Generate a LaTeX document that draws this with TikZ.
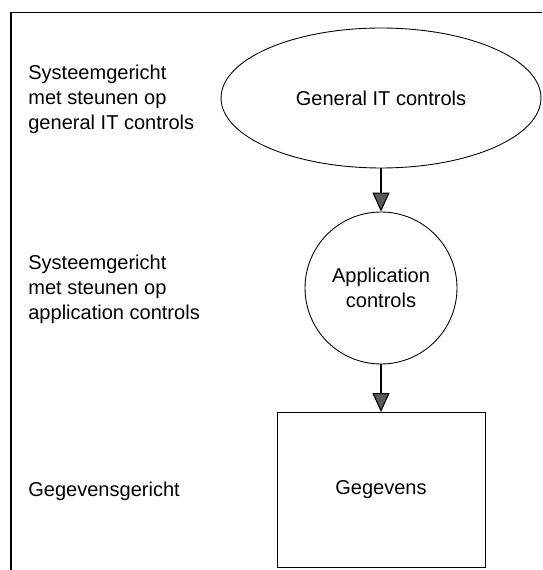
\documentclass[tikz,border=0pt]{standalone}
\usepackage{fontspec}
\setmainfont{Liberation Sans}
\usetikzlibrary{arrows.meta,shapes}
\usetikzlibrary{positioning}
\tikzset{
	ctrl/.style={draw=black, line width=0.5pt},
	level/.style={anchor=west, align=left, inner sep=0pt},
	flow/.style={draw=black, line width=0.6pt,
		-{Triangle[length=3.8mm,width=3.4mm,fill=black!65]}},
}

\begin{document}
\begin{tikzpicture}[x=0.02cm, y=-0.02cm, font=\fontsize{11.4}{14.2}\selectfont]
	\useasboundingbox (0,0) rectangle (542,570);
	\draw[line width=0.8pt] (542,12.5) -| (11,570);
	% de drie niveaus
	\node[ctrl, ellipse, minimum width=6.4cm, minimum height=2.8cm] (gitc) at (381,98) {General IT controls};
	\node[ctrl, circle, minimum size=3.04cm, align=center] (appc) at (381,288) {Application\\controls};
	\node[ctrl, rectangle, minimum width=4.16cm, minimum height=3.1cm] (data) at (381,490) {Gegevens};
	\draw[flow] (gitc) -- (appc);
	\draw[flow] (appc) -- (data);
	% omschrijvingen links
	\node[level] (lgitc) at (28,99) {Systeemgericht\\met steunen op\\general IT controls};
	\node[level] (lappc) at (28,289) {Systeemgericht\\met steunen op\\application controls};
	\node[level] (ldata) at (28,491) {Gegevensgericht};
\end{tikzpicture}
\end{document}
